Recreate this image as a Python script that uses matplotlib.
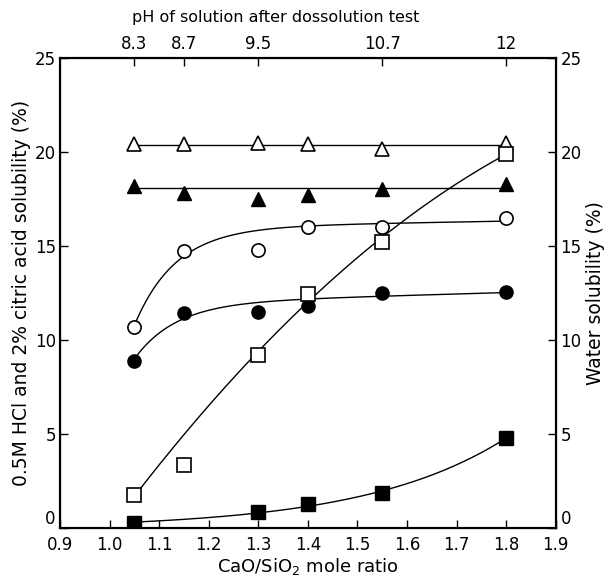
import numpy as np
import matplotlib
matplotlib.use("Agg")
import matplotlib.pyplot as plt

# ---- data ----
ratio = [1.05, 1.15, 1.30, 1.40, 1.55, 1.80]
open_tri = [20.4, 20.4, 20.45, 20.4, 20.15, 20.45]
filled_tri = [18.2, 17.8, 17.5, 17.7, 18.0, 18.3]
open_circ = [10.7, 14.7, 14.75, 16.0, 16.0, 16.45]
filled_circ = [8.9, 11.45, 11.5, 11.8, 12.5, 12.55]
open_sq = [1.75, 3.35, 9.2, 12.45, 15.2, 19.9]
filled_sq_x = [1.05, 1.30, 1.40, 1.55, 1.80]
filled_sq = [0.25, 0.85, 1.3, 1.85, 4.8]

ph_pos = [1.05, 1.15, 1.30, 1.55, 1.80]
ph_labels = ["8.3", "8.7", "9.5", "10.7", "12"]

xticks = [0.9, 1.0, 1.1, 1.2, 1.3, 1.4, 1.5, 1.6, 1.7, 1.8, 1.9]
yticks = [0, 5, 10, 15, 20, 25]

plt.rcParams['font.family'] = ['DejaVu Sans']

fig = plt.figure(figsize=(6.12, 5.81), dpi=100)
ax = fig.add_axes([0.098, 0.091, 0.810, 0.810])

x0, x1 = ratio[0], ratio[-1]
xs = np.linspace(x0, x1, 200)


def sat_lin_fit(x, y, k=12.0, w=None):
    """weighted least-squares fit of a + m*t - b*exp(-k*t)"""
    x = np.asarray(x); y = np.asarray(y); t = x - x0; ts = xs - x0
    w = np.ones_like(y) if w is None else np.asarray(w)
    A = np.column_stack([np.ones_like(t), t, -np.exp(-k * t)])
    coef, *_ = np.linalg.lstsq(A * w[:, None], y * w, rcond=None)
    a, m, b = coef
    return a + m * ts - b * np.exp(-k * ts)


def exp_fit(x, y):
    """least-squares fit of c + a*exp(k*t) (k by grid search)"""
    x = np.asarray(x); y = np.asarray(y); t = x - x0; ts = xs - x0
    best = None
    for k in np.linspace(0.5, 15, 500):
        A = np.column_stack([np.ones_like(t), np.exp(k * t)])
        coef, *_ = np.linalg.lstsq(A, y, rcond=None)
        r = np.sum((A @ coef - y) ** 2)
        if best is None or r < best[0]:
            best = (r, k, coef)
    _, k, (c, a) = best
    return c + a * np.exp(k * ts)


lc = 'black'
lw = 1.0
# flat triangle lines
ax.plot([x0, x1], [np.mean(open_tri)] * 2, color=lc, lw=lw)
ax.plot([x0, x1], [np.mean(filled_tri) + 0.15] * 2, color=lc, lw=lw)
# circles (the drawn curves pass above the 1.3 points)
ax.plot(xs, sat_lin_fit(ratio, open_circ, w=[1, 1, 0.3, 1, 1, 1]), color=lc, lw=lw)
ax.plot(xs, sat_lin_fit(ratio, filled_circ, w=[1, 1, 0.4, 1, 1, 1]), color=lc, lw=lw)
# squares (the drawn curve bypasses the 1.15 point)
p = np.polyfit(ratio, open_sq, 2, w=[1, 0.25, 1, 1, 1, 1])
ax.plot(xs, np.polyval(p, xs), color=lc, lw=lw)
ax.plot(xs, exp_fit(filled_sq_x, filled_sq), color=lc, lw=lw)

ms = 9.5
ax.plot(ratio, open_tri, '^', ms=ms, mfc='white', mec='black', mew=1.2, ls='none')
ax.plot(ratio, filled_tri, '^', ms=ms, mfc='black', mec='black', mew=1.0, ls='none')
ax.plot(ratio, open_circ, 'o', ms=ms, mfc='white', mec='black', mew=1.2, ls='none')
ax.plot(ratio, filled_circ, 'o', ms=ms, mfc='black', mec='black', mew=1.0, ls='none')
ax.plot(ratio, open_sq, 's', ms=ms, mfc='white', mec='black', mew=1.2, ls='none')
ax.plot(filled_sq_x, filled_sq, 's', ms=ms, mfc='black', mec='black', mew=1.0, ls='none')

ax.set_xlim(0.9, 1.9)
ax.set_ylim(0, 25)
ax.set_xticks(xticks)
ax.set_xticklabels([f"{t:.1f}" for t in xticks])
ax.set_yticks(yticks)
ax.tick_params(direction='in', length=6, width=1.0, labelsize=12, colors='black')
ax.tick_params(axis='y', pad=3)
ax.tick_params(axis='x', pad=6)
for s in ax.spines.values():
    s.set_linewidth(1.5)

ax.set_xlabel("CaO/SiO$_2$ mole ratio", fontsize=13, labelpad=1)
ax.set_ylabel("0.5M HCl and 2% citric acid solubility (%)", fontsize=13.5, labelpad=3)

axr = ax.twinx()
axr.set_ylim(0, 25)
axr.set_yticks(yticks)
axr.tick_params(direction='in', length=6, width=1.0, labelsize=12)
axr.set_ylabel("Water solubility (%)", fontsize=13.5, labelpad=3)
for s in axr.spines.values():
    s.set_linewidth(1.5)

# lift the "0" labels above the x-axis line, as in the reference
for lab in (ax.get_yticklabels()[0], axr.get_yticklabels()[0]):
    lab.set_verticalalignment('bottom')

axt = ax.twiny()
axt.set_xlim(0.9, 1.9)
axt.set_xticks(ph_pos)
axt.set_xticklabels(ph_labels)
axt.tick_params(direction='in', length=6, width=1.0, labelsize=12)
axt.set_xlabel("pH of solution after dossolution test", fontsize=11.5)
axt.xaxis.set_label_coords(0.435, 1.075)

fig.savefig("out.png", dpi=100)
